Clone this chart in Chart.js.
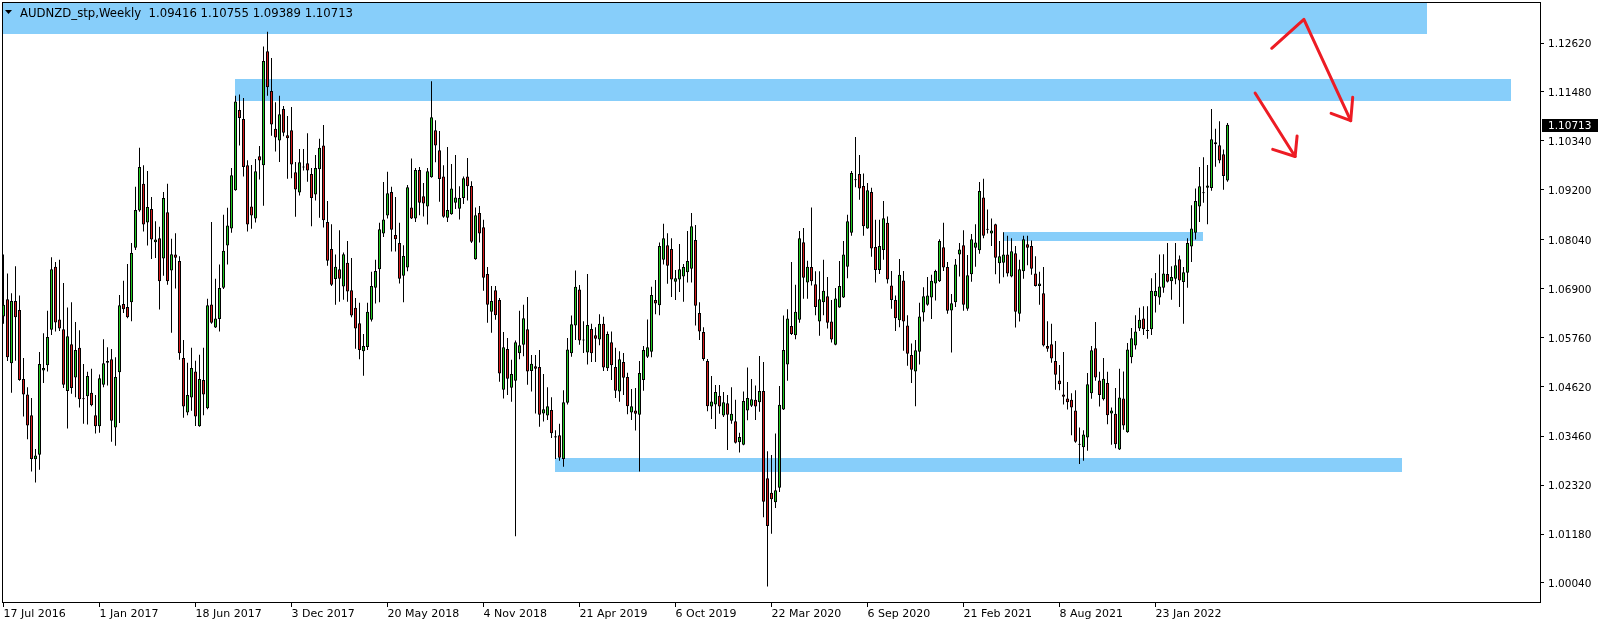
<!DOCTYPE html>
<html>
<head>
<meta charset="utf-8">
<title>AUDNZD_stp, Weekly</title>
<script src="https://cdn.jsdelivr.net/npm/chart.js@4.4.1/dist/chart.umd.min.js"></script>
<style>
  html, body { margin: 0; padding: 0; background: #fff; }
  #wrap { position: relative; width: 1604px; height: 625px; }
</style>
</head>
<body>
<div id="wrap"><canvas id="chart"></canvas></div>
<script>
// Weekly AUDNZD bars, first bar = week of 17 Jul 2016
const symbolTitle = 'AUDNZD_stp,Weekly';

const open = [
  1.0625, 1.0665, 1.0516, 1.0661, 1.0640, 1.0479, 1.0443, 1.0395, 1.0292, 1.0303,
  1.0499, 1.0511, 1.0594, 1.0741, 1.0618, 1.0595, 1.0451, 1.0560, 1.0483, 1.0552,
  1.0432, 1.0439, 1.0447, 1.0395, 1.0369, 1.0466, 1.0517, 1.0525, 1.0366, 1.0495,
  1.0654, 1.0647, 1.0658, 1.0785, 1.0872, 1.0934, 1.0844, 1.0875, 1.0798, 1.0807,
  1.0760, 1.0868, 1.0732, 1.0769, 1.0754, 1.0528, 1.0401, 1.0436, 1.0497, 1.0369,
  1.0477, 1.0411, 1.0653, 1.0599, 1.0619, 1.0692, 1.0790, 1.0830, 1.0919, 1.1106,
  1.1085, 1.0977, 1.0881, 1.0853, 1.0998, 1.0977, 1.1243, 1.1150, 1.1062, 1.1035,
  1.1108, 1.1047, 1.1059, 1.0961, 1.0914, 1.0972, 1.0982, 1.0957, 1.0909, 1.0968,
  1.1023, 1.0845, 1.0782, 1.0712, 1.0735, 1.0695, 1.0750, 1.0686, 1.0645, 1.0609,
  1.0544, 1.0554, 1.0617, 1.0692, 1.0735, 1.0818, 1.0860, 1.0915, 1.0815, 1.0796,
  1.0720, 1.0739, 1.0879, 1.0853, 1.0966, 1.0905, 1.0881, 1.0949, 1.1059, 1.1012,
  1.0951, 1.0855, 1.0863, 1.0890, 1.0876, 1.0901, 1.0951, 1.0929, 1.0758, 1.0866,
  1.0833, 1.0724, 1.0636, 1.0686, 1.0663, 1.0454, 1.0549, 1.0459, 1.0475, 1.0539,
  1.0559, 1.0595, 1.0498, 1.0509, 1.0507, 1.0399, 1.0394, 1.0407, 1.0346, 1.0348,
  1.0293, 1.0424, 1.0539, 1.0604, 1.0688, 1.0569, 1.0541, 1.0596, 1.0581, 1.0571,
  1.0608, 1.0504, 1.0565, 1.0507, 1.0450, 1.0519, 1.0484, 1.0401, 1.0406, 1.0396,
  1.0477, 1.0531, 1.0543, 1.0663, 1.0651, 1.0757, 1.0791, 1.0782, 1.0706, 1.0711,
  1.0718, 1.0728, 1.0736, 1.0803, 1.0633, 1.0589, 1.0521, 1.0415, 1.0420, 1.0440,
  1.0394, 1.0423, 1.0382, 1.0381, 1.0332, 1.0326, 1.0406, 1.0417, 1.0431, 1.0425,
  1.0451, 1.0248, 1.0214, 1.0192, 1.0226, 1.0408, 1.0513, 1.0603, 1.0581, 1.0617,
  1.0798, 1.0704, 1.0740, 1.0700, 1.0613, 1.0658, 1.0672, 1.0613, 1.0559, 1.0646,
  1.0669, 1.0741, 1.0820, 1.0942, 1.0957, 1.0929, 1.0830, 1.0915, 1.0787, 1.0733,
  1.0780, 1.0843, 1.0697, 1.0663, 1.0616, 1.0709, 1.0604, 1.0535, 1.0497, 1.0543,
  1.0634, 1.0652, 1.0669, 1.0702, 1.0707, 1.0786, 1.0740, 1.0639, 1.0658, 1.0769,
  1.0791, 1.0643, 1.0723, 1.0785, 1.0779, 1.0902, 1.0827, 1.0818, 1.0840, 1.0749,
  1.0750, 1.0769, 1.0718, 1.0772, 1.0631, 1.0730, 1.0793, 1.0789, 1.0725, 1.0696,
  1.0679, 1.0556, 1.0560, 1.0521, 1.0476, 1.0443, 1.0434, 1.0431, 1.0406, 1.0326,
  1.0320, 1.0343, 1.0446, 1.0551, 1.0476, 1.0432, 1.0470, 1.0399, 1.0398, 1.0315,
  1.0434, 1.0355, 1.0530, 1.0557, 1.0597, 1.0620, 1.0591, 1.0595, 1.0672, 1.0669,
  1.0692, 1.0724, 1.0707, 1.0713, 1.0758, 1.0705, 1.0727, 1.0788, 1.0820, 1.0881,
  1.0912, 1.0925, 1.0924, 1.1026, 1.1024, 1.1003, 1.09416
];
const high = [
  1.0769, 1.0725, 1.0679, 1.0742, 1.0674, 1.0528, 1.0460, 1.0435, 1.0316, 1.0542,
  1.0586, 1.0638, 1.0763, 1.0752, 1.0757, 1.0703, 1.0646, 1.0658, 1.0612, 1.0593,
  1.0514, 1.0496, 1.0503, 1.0442, 1.0490, 1.0572, 1.0553, 1.0549, 1.0530, 1.0675,
  1.0708, 1.0747, 1.0796, 1.0927, 1.1018, 1.0977, 1.0964, 1.0903, 1.0847, 1.0834,
  1.0915, 1.0934, 1.0806, 1.0819, 1.0765, 1.0570, 1.0517, 1.0552, 1.0522, 1.0536,
  1.0552, 1.0666, 1.0845, 1.0713, 1.0746, 1.0862, 1.0878, 1.0971, 1.1139, 1.1142,
  1.1134, 1.0989, 1.0978, 1.0992, 1.1022, 1.1254, 1.1288, 1.1227, 1.1124, 1.1139,
  1.1115, 1.1092, 1.1113, 1.0985, 1.1015, 1.1015, 1.1052, 1.0971, 1.1001, 1.1039,
  1.1071, 1.0894, 1.0840, 1.0769, 1.0826, 1.0774, 1.0801, 1.0761, 1.0668, 1.0657,
  1.0584, 1.0657, 1.0729, 1.0757, 1.0843, 1.0938, 1.0962, 1.0927, 1.0903, 1.0843,
  1.0791, 1.0931, 1.0993, 1.0971, 1.0973, 1.0936, 1.0971, 1.1173, 1.1082, 1.1057,
  1.0977, 1.1020, 1.0980, 1.1001, 1.0928, 1.0951, 1.0994, 1.0940, 1.0879, 1.0882,
  1.0850, 1.0740, 1.0696, 1.0696, 1.0668, 1.0589, 1.0575, 1.0524, 1.0569, 1.0638,
  1.0652, 1.0670, 1.0535, 1.0535, 1.0547, 1.0491, 1.0460, 1.0437, 1.0360, 1.0375,
  1.0453, 1.0575, 1.0627, 1.0732, 1.0698, 1.0614, 1.0724, 1.0608, 1.0600, 1.0630,
  1.0624, 1.0590, 1.0590, 1.0552, 1.0544, 1.0540, 1.0494, 1.0456, 1.0458, 1.0521,
  1.0556, 1.0618, 1.0694, 1.0710, 1.0797, 1.0841, 1.0819, 1.0807, 1.0733, 1.0794,
  1.0747, 1.0824, 1.0866, 1.0838, 1.0658, 1.0600, 1.0526, 1.0486, 1.0465, 1.0465,
  1.0449, 1.0442, 1.0460, 1.0431, 1.0354, 1.0450, 1.0506, 1.0479, 1.0464, 1.0533,
  1.0519, 1.0311, 1.0302, 1.0352, 1.0463, 1.0627, 1.0642, 1.0752, 1.0699, 1.0824,
  1.0831, 1.0755, 1.0879, 1.0730, 1.0730, 1.0757, 1.0717, 1.0663, 1.0691, 1.0754,
  1.0801, 1.0862, 1.0964, 1.1043, 1.1001, 1.0958, 1.0936, 1.0925, 1.0850, 1.0850,
  1.0894, 1.0858, 1.0731, 1.0674, 1.0759, 1.0731, 1.0628, 1.0562, 1.0570, 1.0657,
  1.0693, 1.0717, 1.0722, 1.0734, 1.0805, 1.0843, 1.0752, 1.0677, 1.0759, 1.0796,
  1.0826, 1.0768, 1.0817, 1.0840, 1.0938, 1.0946, 1.0874, 1.0853, 1.0841, 1.0801,
  1.0821, 1.0813, 1.0807, 1.0789, 1.0757, 1.0813, 1.0813, 1.0802, 1.0765, 1.0729,
  1.0740, 1.0614, 1.0608, 1.0568, 1.0512, 1.0542, 1.0472, 1.0446, 1.0453, 1.0366,
  1.0360, 1.0493, 1.0556, 1.0612, 1.0496, 1.0528, 1.0496, 1.0413, 1.0458, 1.0503,
  1.0497, 1.0563, 1.0598, 1.0628, 1.0645, 1.0649, 1.0649, 1.0714, 1.0726, 1.0769,
  1.0770, 1.0796, 1.0742, 1.0796, 1.0767, 1.0740, 1.0807, 1.0884, 1.0923, 1.0973,
  1.0996, 1.0978, 1.1108, 1.1062, 1.1080, 1.1014, 1.10755
];
const low = [
  1.0608, 1.0521, 1.0447, 1.0522, 1.0475, 1.0392, 1.0339, 1.0264, 1.0238, 1.0268,
  1.0470, 1.0497, 1.0582, 1.0590, 1.0591, 1.0458, 1.0364, 1.0445, 1.0437, 1.0413,
  1.0375, 1.0373, 1.0416, 1.0352, 1.0354, 1.0460, 1.0464, 1.0333, 1.0324, 1.0377,
  1.0633, 1.0621, 1.0614, 1.0780, 1.0869, 1.0823, 1.0790, 1.0759, 1.0761, 1.0641,
  1.0720, 1.0699, 1.0587, 1.0690, 1.0524, 1.0389, 1.0395, 1.0405, 1.0370, 1.0368,
  1.0395, 1.0409, 1.0608, 1.0598, 1.0590, 1.0689, 1.0746, 1.0820, 1.0918, 1.1023,
  1.0951, 1.0823, 1.0829, 1.0844, 1.0944, 1.0883, 1.1139, 1.1046, 1.1009, 1.0985,
  1.1045, 1.0946, 1.0947, 1.0857, 1.0907, 1.0965, 1.0939, 1.0835, 1.0895, 1.0855,
  1.0832, 1.0743, 1.0696, 1.0652, 1.0659, 1.0664, 1.0659, 1.0623, 1.0550, 1.0525,
  1.0487, 1.0547, 1.0613, 1.0655, 1.0658, 1.0810, 1.0853, 1.0776, 1.0776, 1.0702,
  1.0658, 1.0730, 1.0852, 1.0845, 1.0861, 1.0858, 1.0839, 1.0948, 1.0984, 1.0892,
  1.0855, 1.0845, 1.0862, 1.0875, 1.0851, 1.0887, 1.0895, 1.0796, 1.0757, 1.0797,
  1.0685, 1.0610, 1.0587, 1.0617, 1.0473, 1.0434, 1.0442, 1.0426, 1.0113, 1.0525,
  1.0532, 1.0466, 1.0450, 1.0399, 1.0368, 1.0380, 1.0384, 1.0342, 1.0293, 1.0289,
  1.0275, 1.0420, 1.0531, 1.0570, 1.0559, 1.0540, 1.0513, 1.0519, 1.0519, 1.0558,
  1.0498, 1.0498, 1.0477, 1.0435, 1.0426, 1.0442, 1.0397, 1.0384, 1.0359, 1.0264,
  1.0452, 1.0528, 1.0530, 1.0630, 1.0628, 1.0746, 1.0701, 1.0670, 1.0663, 1.0682,
  1.0659, 1.0704, 1.0704, 1.0604, 1.0570, 1.0522, 1.0404, 1.0386, 1.0363, 1.0398,
  1.0391, 1.0314, 1.0375, 1.0329, 1.0308, 1.0325, 1.0383, 1.0414, 1.0384, 1.0403,
  1.0157, 0.9996, 1.0119, 1.0179, 1.0216, 1.0407, 1.0475, 1.0582, 1.0572, 1.0610,
  1.0666, 1.0666, 1.0697, 1.0628, 1.0580, 1.0628, 1.0597, 1.0564, 1.0558, 1.0645,
  1.0668, 1.0714, 1.0813, 1.0926, 1.0897, 1.0813, 1.0829, 1.0764, 1.0704, 1.0724,
  1.0757, 1.0702, 1.0643, 1.0591, 1.0600, 1.0545, 1.0510, 1.0470, 1.0416, 1.0513,
  1.0613, 1.0650, 1.0619, 1.0662, 1.0705, 1.0731, 1.0631, 1.0541, 1.0647, 1.0718,
  1.0638, 1.0638, 1.0706, 1.0741, 1.0771, 1.0807, 1.0818, 1.0789, 1.0723, 1.0702,
  1.0716, 1.0718, 1.0716, 1.0599, 1.0613, 1.0713, 1.0744, 1.0722, 1.0695, 1.0652,
  1.0555, 1.0543, 1.0517, 1.0454, 1.0453, 1.0420, 1.0408, 1.0348, 1.0331, 1.0281,
  1.0289, 1.0312, 1.0433, 1.0475, 1.0415, 1.0429, 1.0374, 1.0326, 1.0318, 1.0314,
  1.0361, 1.0354, 1.0516, 1.0548, 1.0591, 1.0582, 1.0573, 1.0582, 1.0634, 1.0652,
  1.0680, 1.0704, 1.0664, 1.0700, 1.0647, 1.0608, 1.0692, 1.0752, 1.0804, 1.0845,
  1.0890, 1.0840, 1.0918, 1.0974, 1.0982, 1.0920, 1.09389
];
const close = [
  1.0652, 1.0530, 1.0661, 1.0623, 1.0477, 1.0443, 1.0371, 1.0293, 1.0301, 1.0514,
  1.0505, 1.0577, 1.0735, 1.0611, 1.0597, 1.0466, 1.0579, 1.0458, 1.0547, 1.0432,
  1.0432, 1.0486, 1.0418, 1.0369, 1.0481, 1.0516, 1.0521, 1.0382, 1.0484, 1.0651,
  1.0642, 1.0623, 1.0773, 1.0873, 1.0973, 1.0839, 1.0880, 1.0804, 1.0804, 1.0707,
  1.0901, 1.0707, 1.0770, 1.0762, 1.0539, 1.0415, 1.0442, 1.0505, 1.0392, 1.0479,
  1.0443, 1.0651, 1.0610, 1.0620, 1.0691, 1.0778, 1.0837, 1.0954, 1.1126, 1.1087,
  1.0973, 1.0839, 1.0860, 1.0963, 1.0988, 1.1220, 1.1159, 1.1072, 1.1042, 1.1096,
  1.1053, 1.1040, 1.0979, 1.0921, 1.0984, 1.0972, 1.0965, 1.0901, 1.0971, 1.1018,
  1.0849, 1.0755, 1.0699, 1.0741, 1.0713, 1.0770, 1.0683, 1.0627, 1.0597, 1.0547,
  1.0556, 1.0636, 1.0696, 1.0731, 1.0828, 1.0851, 1.0912, 1.0827, 1.0805, 1.0713,
  1.0766, 1.0926, 1.0853, 1.0966, 1.0890, 1.0888, 1.0963, 1.1089, 1.1023, 1.0945,
  1.0857, 1.0873, 1.0923, 1.0902, 1.0901, 1.0947, 1.0928, 1.0799, 1.0861, 1.0818,
  1.0715, 1.0652, 1.0661, 1.0628, 1.0492, 1.0553, 1.0480, 1.0491, 1.0565, 1.0558,
  1.0621, 1.0497, 1.0515, 1.0503, 1.0396, 1.0409, 1.0416, 1.0353, 1.0343, 1.0296,
  1.0425, 1.0548, 1.0607, 1.0694, 1.0569, 1.0569, 1.0605, 1.0539, 1.0573, 1.0608,
  1.0506, 1.0584, 1.0511, 1.0452, 1.0525, 1.0482, 1.0416, 1.0416, 1.0398, 1.0493,
  1.0547, 1.0553, 1.0675, 1.0655, 1.0789, 1.0807, 1.0743, 1.0711, 1.0714, 1.0735,
  1.0740, 1.0754, 1.0835, 1.0650, 1.0590, 1.0526, 1.0416, 1.0427, 1.0449, 1.0415,
  1.0425, 1.0396, 1.0398, 1.0331, 1.0344, 1.0428, 1.0435, 1.0432, 1.0415, 1.0451,
  1.0193, 1.0137, 1.0199, 1.0220, 1.0419, 1.0547, 1.0620, 1.0584, 1.0636, 1.0807,
  1.0715, 1.0741, 1.0707, 1.0647, 1.0665, 1.0685, 1.0610, 1.0571, 1.0667, 1.0696,
  1.0769, 1.0847, 1.0959, 1.0942, 1.0923, 1.0835, 1.0919, 1.0783, 1.0733, 1.0789,
  1.0854, 1.0711, 1.0663, 1.0621, 1.0722, 1.0613, 1.0538, 1.0501, 1.0546, 1.0625,
  1.0672, 1.0674, 1.0708, 1.0731, 1.0801, 1.0739, 1.0638, 1.0656, 1.0746, 1.0781,
  1.0652, 1.0721, 1.0805, 1.0797, 1.0917, 1.0813, 1.0827, 1.0825, 1.0762, 1.0765,
  1.0769, 1.0725, 1.0777, 1.0636, 1.0735, 1.0805, 1.0785, 1.0736, 1.0696, 1.0702,
  1.0557, 1.0550, 1.0527, 1.0489, 1.0467, 1.0438, 1.0425, 1.0413, 1.0333, 1.0326,
  1.0350, 1.0467, 1.0546, 1.0483, 1.0442, 1.0480, 1.0395, 1.0406, 1.0327, 1.0436,
  1.0371, 1.0548, 1.0574, 1.0590, 1.0617, 1.0595, 1.0591, 1.0685, 1.0684, 1.0695,
  1.0725, 1.0706, 1.0717, 1.0744, 1.0709, 1.0728, 1.0796, 1.0830, 1.0894, 1.0928,
  1.0914, 1.0930, 1.1038, 1.1031, 1.0988, 1.0952, 1.10713
];

// axis ticks (bar index for dates)
const dateTicks = [0, 24, 48, 72, 96, 120, 144, 168, 192, 216, 240, 264, 288];
const dateLabels = ['17 Jul 2016', '1 Jan 2017', '18 Jun 2017', '3 Dec 2017', '20 May 2018', '4 Nov 2018',
  '21 Apr 2019', '6 Oct 2019', '22 Mar 2020', '6 Sep 2020', '21 Feb 2021', '8 Aug 2021', '23 Jan 2022'];
const priceTicks = [1.00040, 1.01180, 1.02320, 1.03460, 1.04620, 1.05760, 1.06900,
  1.08040, 1.09200, 1.10340, 1.11480, 1.12620];

// drawn zones (bar index from/to, price low/high)
const zoneFrom = [-5, 57.9, 137.9, 249.9];
const zoneTo = [355.9, 376.9, 349.6, 299.9];
const zoneLow = [1.12834, 1.11276, 1.02635, 1.08014];
const zoneHigh = [1.1500, 1.11781, 1.02947, 1.08217];

// hand drawn arrows (bar index, price)
const arrowBigX = [317.05, 325.1, 336.8];
const arrowBigY = [1.12497, 1.13172, 1.10810];
const arrowBigHeadX = [331.9, 336.8, 337.3];
const arrowBigHeadY = [1.10982, 1.10810, 1.11355];
const arrowSmallX = [312.9, 322.9];
const arrowSmallY = [1.11455, 1.09976];
const arrowSmallHeadX = [317.3, 322.9, 323.4];
const arrowSmallHeadY = [1.10141, 1.09976, 1.10453];

const bull = '#1fc81f';
const bear = '#d41b1b';
const zoneColor = '#87cefa';
const arrowColor = '#ed1c24';
const fontFamily = '"DejaVu Sans", Verdana, sans-serif';

const bodies = close.map((c, i) => ({ x: i, y: [open[i], c] }));
const wicks = close.map((c, i) => ({ x: i, y: [low[i], high[i]] }));
const bodyColors = close.map((c, i) => c >= open[i] ? bull : bear);
const pts = (xs, ys) => xs.map((v, i) => ({ x: v, y: ys[i] }));

function arrowSet(data) {
    return {
        type: 'line',
        data: data,
        borderColor: arrowColor,
        borderWidth: 3,
        borderCapStyle: 'round',
        borderJoinStyle: 'round',
        pointRadius: 0,
        fill: false,
        tension: 0,
        order: 0
    };
}

const overlay = {
    id: 'overlay',
    beforeDatasetsDraw(chart) {
        const { ctx, chartArea: a, scales: { x, y } } = chart;
        ctx.save();
        ctx.beginPath();
        ctx.rect(a.left, a.top, a.right - a.left, a.bottom - a.top);
        ctx.clip();
        ctx.fillStyle = zoneColor;
        zoneFrom.forEach((f, i) => {
            const x1 = Math.round(x.getPixelForValue(f));
            const x2 = Math.round(x.getPixelForValue(zoneTo[i]));
            const y1 = Math.round(y.getPixelForValue(zoneHigh[i]));
            const y2 = Math.round(y.getPixelForValue(zoneLow[i]));
            ctx.fillRect(x1, y1, x2 - x1, y2 - y1);
        });
        ctx.restore();
    },
    afterDraw(chart) {
        const { ctx, chartArea: a, scales: { y } } = chart;
        const n = close.length - 1;
        ctx.save();
        // frame
        ctx.strokeStyle = '#000';
        ctx.lineWidth = 1;
        ctx.strokeRect(a.left - 0.5, a.top - 0.5, a.right - a.left + 1, a.bottom - a.top);

        // last price tag
        const py = Math.round(y.getPixelForValue(close[n]));
        ctx.fillStyle = '#000';
        ctx.fillRect(a.right + 2, py - 6, 56, 13);
        ctx.fillStyle = '#fff';
        ctx.font = '10.5px ' + fontFamily;
        ctx.textBaseline = 'middle';
        ctx.fillText(close[n].toFixed(5), a.right + 8, py + 1);

        // header
        ctx.fillStyle = '#000';
        ctx.beginPath();
        ctx.moveTo(5, 10);
        ctx.lineTo(12, 10);
        ctx.lineTo(8.5, 14);
        ctx.closePath();
        ctx.fill();
        ctx.font = '11.7px ' + fontFamily;
        ctx.textBaseline = 'alphabetic';
        const ohlc = [open[n], high[n], low[n], close[n]].map(v => v.toFixed(5)).join(' ');
        ctx.fillText(symbolTitle + '  ' + ohlc, 20, 16.5);
        ctx.restore();
    }
};

new Chart(document.getElementById('chart'), {
    type: 'bar',
    data: {
        datasets: [
            arrowSet(pts(arrowBigX, arrowBigY)),
            arrowSet(pts(arrowBigHeadX, arrowBigHeadY)),
            arrowSet(pts(arrowSmallX, arrowSmallY)),
            arrowSet(pts(arrowSmallHeadX, arrowSmallHeadY)),
            {
                data: bodies,
                backgroundColor: bodyColors,
                borderColor: '#000',
                borderWidth: 1,
                borderSkipped: false,
                barThickness: 3,
                minBarLength: 1,
                inflateAmount: 0,
                grouped: false,
                order: 1
            },
            {
                data: wicks,
                backgroundColor: '#000',
                borderWidth: 0,
                barThickness: 1,
                inflateAmount: 0,
                grouped: false,
                order: 2
            }
        ]
    },
    options: {
        responsive: true,
        maintainAspectRatio: false,
        devicePixelRatio: 1,
        animation: false,
        events: [],
        layout: { padding: { left: 3, top: 3, right: 0, bottom: 0 } },
        plugins: {
            legend: { display: false },
            tooltip: { enabled: false }
        },
        scales: {
            x: {
                type: 'linear',
                min: -0.125,
                max: 384.125,
                offset: false,
                border: { display: false },
                grid: { offset: false, drawOnChartArea: false, drawTicks: true, tickLength: 4, color: '#000' },
                afterBuildTicks: (scale) => { scale.ticks = dateTicks.map(v => ({ value: v })); },
                afterFit: (scale) => {
                    scale.height = 22;
                    scale.paddingLeft = 0;
                    scale.paddingRight = 0;
                },
                ticks: {
                    autoSkip: false,
                    maxRotation: 0,
                    minRotation: 0,
                    align: 'start',
                    padding: 1,
                    color: '#000',
                    font: { family: fontFamily, size: 11 },
                    callback: (v, i) => dateLabels[i]
                }
            },
            y: {
                position: 'right',
                min: 0.99574,
                max: 1.135519,
                border: { display: false },
                grid: { drawOnChartArea: false, drawTicks: true, tickLength: 4, color: '#000' },
                afterBuildTicks: (scale) => { scale.ticks = priceTicks.map(v => ({ value: v })); },
                afterFit: (scale) => {
                    scale.width = 64;
                    scale.paddingTop = 0;
                    scale.paddingBottom = 0;
                },
                ticks: {
                    padding: 4,
                    labelOffset: 1.5,
                    color: '#000',
                    font: { family: fontFamily, size: 10.5 },
                    callback: (v) => v.toFixed(5)
                }
            }
        }
    },
    plugins: [overlay]
});
</script>
</body>
</html>
